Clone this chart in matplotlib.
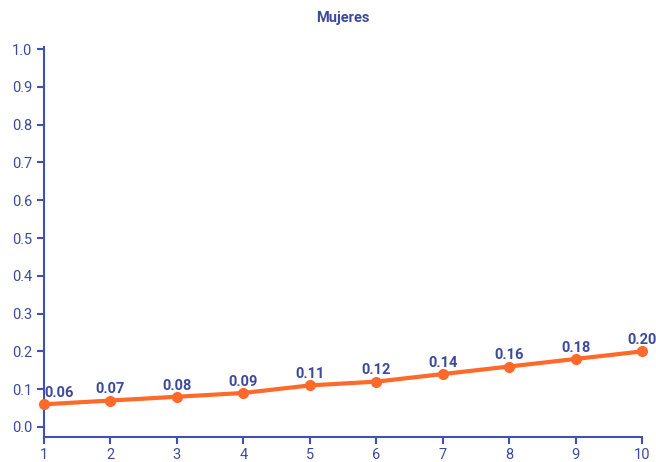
import matplotlib
matplotlib.use("Agg")
import matplotlib.pyplot as plt

# chart data
x_vals = [1, 2, 3, 4, 5, 6, 7, 8, 9, 10]
mujeres = [0.06, 0.07, 0.08, 0.09, 0.11, 0.12, 0.14, 0.16, 0.18, 0.20]
y_ticks = [0.0, 0.1, 0.2, 0.3, 0.4, 0.5, 0.6, 0.7, 0.8, 0.9, 1.0]

AXIS_COLOR = "#3f51b5"
LINE_COLOR = "#ff6a2a"
LABEL_COLOR = "#3b4a9c"

plt.rcParams["font.family"] = ["Roboto", "DejaVu Sans"]

fig = plt.figure(figsize=(6.56, 4.62), dpi=100)
ax = fig.add_axes([0.0671, 0.0541, 0.9116, 0.8439])

ax.plot(x_vals, mujeres, color=LINE_COLOR, linewidth=3, marker="o",
        markersize=7, clip_on=False, zorder=3)

for i, (xv, yv) in enumerate(zip(x_vals, mujeres)):
    # first label is pushed right so it stays clear of the y tick labels
    ha = "left" if i == 0 else "center"
    ax.annotate(f"{yv:.2f}", (xv, yv), xytext=(0, 3), textcoords="offset points",
                ha=ha, va="bottom", fontsize=10.5, fontweight="bold",
                color=LABEL_COLOR)

ax.set_xlim(1, 10)
ax.set_ylim(-0.0265, 1.005)
ax.set_xticks(x_vals)
ax.set_yticks(y_ticks)
ax.set_yticklabels([f"{t:.1f}" for t in y_ticks])

for side in ["top", "right"]:
    ax.spines[side].set_visible(False)
for side in ["left", "bottom"]:
    ax.spines[side].set_color(AXIS_COLOR)
    ax.spines[side].set_linewidth(1.5)

ax.tick_params(axis="both", colors=AXIS_COLOR, labelcolor=LABEL_COLOR,
               labelsize=10.5, length=5, width=1.5, direction="out")
ax.tick_params(axis="x", pad=3)

ax.set_title("Mujeres", fontsize=10.5, fontweight="bold", color=LABEL_COLOR, pad=18)

fig.savefig("out.png", dpi=100)
